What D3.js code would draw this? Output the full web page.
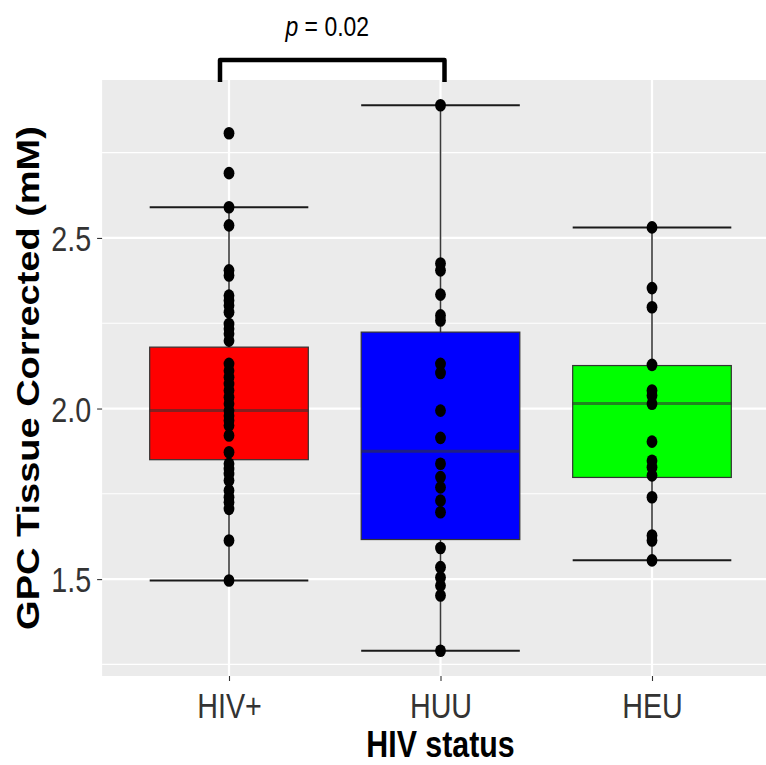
<!DOCTYPE html>
<html>
<head>
<meta charset="utf-8">
<script src="https://cdn.jsdelivr.net/npm/d3@7"></script>
<style>
  body { margin: 0; background: #fff; }
  text { font-family: "Liberation Sans", Arial, sans-serif; }
</style>
</head>
<body>
<script>
// categories and box statistics
var categories = ["HIV+", "HUU", "HEU"];
var boxFills = ["#ff0000", "#0000ff", "#00ff00"];
var whiskerLow = [1.496, 1.290, 1.555];
var boxQ1 = [1.850, 1.616, 1.798];
var boxMedian = [1.994, 1.875, 2.015];
var boxQ3 = [2.180, 2.224, 2.126];
var whiskerHigh = [2.590, 2.889, 2.531];

// individual points per group
var pointsHIV = [2.807, 2.690, 2.590, 2.537, 2.405, 2.390, 2.331, 2.317, 2.302, 2.282,
    2.248, 2.234, 2.219, 2.199, 2.131, 2.111, 2.092, 2.072, 2.053, 2.033, 2.014, 1.994,
    1.979, 1.965, 1.950, 1.921, 1.872, 1.838, 1.823, 1.808, 1.789, 1.760, 1.740, 1.725,
    1.706, 1.613, 1.496];
var pointsHUU = [2.889, 2.425, 2.405, 2.334, 2.273, 2.258, 2.131, 2.104, 1.994, 1.914,
    1.838, 1.799, 1.769, 1.730, 1.696, 1.591, 1.535, 1.505, 1.481, 1.452, 1.290];
var pointsHEU = [2.531, 2.353, 2.297, 2.128, 2.053, 2.038, 2.014, 1.903, 1.847, 1.828,
    1.804, 1.740, 1.628, 1.613, 1.555];

var yMajor = [1.5, 2.0, 2.5];
var yMinor = [1.25, 1.75, 2.25, 2.75];
var pLabel = "0.02";

var width = 766, height = 765,
    sx = 0.82; // the picture is squeezed horizontally

var svg = d3.select("body").append("svg")
    .attr("width", width)
    .attr("height", height);

var x = d3.scalePoint().domain(categories).range([229, 652]);
var step = x.step();
var panelLeft = x(categories[0]) - 0.6 * step,
    panelRight = x(categories[categories.length - 1]) + 0.6 * step,
    panelTop = 80, panelBottom = 676;

var y = d3.scaleLinear().domain([1.216, 2.963]).range([panelBottom, panelTop]);

// panel background
svg.append("rect")
    .attr("x", panelLeft).attr("y", panelTop)
    .attr("width", panelRight - panelLeft)
    .attr("height", panelBottom - panelTop)
    .attr("fill", "#ebebeb");

// grid
svg.append("g").selectAll("line").data(yMinor).enter().append("line")
    .attr("x1", panelLeft).attr("x2", panelRight)
    .attr("y1", function(d) { return y(d); }).attr("y2", function(d) { return y(d); })
    .attr("stroke", "#fff").attr("stroke-width", 1.1);
svg.append("g").selectAll("line").data(yMajor).enter().append("line")
    .attr("x1", panelLeft).attr("x2", panelRight)
    .attr("y1", function(d) { return y(d); }).attr("y2", function(d) { return y(d); })
    .attr("stroke", "#fff").attr("stroke-width", 2.2);
svg.append("g").selectAll("line").data(categories).enter().append("line")
    .attr("x1", function(d) { return x(d); }).attr("x2", function(d) { return x(d); })
    .attr("y1", panelTop).attr("y2", panelBottom)
    .attr("stroke", "#fff").attr("stroke-width", 2.2);

var boxes = categories.map(function(c, i) {
    return {cat: c, fill: boxFills[i], lo: whiskerLow[i], q1: boxQ1[i],
        med: boxMedian[i], q3: boxQ3[i], hi: whiskerHigh[i]};
});
var half = 0.375 * step;

// whiskers and caps
var wg = svg.append("g");
wg.selectAll(".whisker").data(boxes).enter().append("line")
    .attr("class", "whisker")
    .attr("x1", function(d) { return x(d.cat); }).attr("x2", function(d) { return x(d.cat); })
    .attr("y1", function(d) { return y(d.lo); }).attr("y2", function(d) { return y(d.hi); })
    .attr("stroke", "#3a3a3a").attr("stroke-width", 1.6);
["lo", "hi"].forEach(function(k) {
    wg.selectAll(".cap-" + k).data(boxes).enter().append("line")
        .attr("class", "cap-" + k)
        .attr("x1", function(d) { return x(d.cat) - half; })
        .attr("x2", function(d) { return x(d.cat) + half; })
        .attr("y1", function(d) { return y(d[k]); })
        .attr("y2", function(d) { return y(d[k]); })
        .attr("stroke", "#1a1a1a").attr("stroke-width", 2);
});

// boxes
svg.append("g").selectAll("rect").data(boxes).enter().append("rect")
    .attr("x", function(d) { return x(d.cat) - half; })
    .attr("width", 2 * half)
    .attr("y", function(d) { return y(d.q3); })
    .attr("height", function(d) { return y(d.q1) - y(d.q3); })
    .attr("fill", function(d) { return d.fill; })
    .attr("stroke", "#333").attr("stroke-width", 1.2);

svg.append("g").selectAll("line").data(boxes).enter().append("line")
    .attr("x1", function(d) { return x(d.cat) - half; })
    .attr("x2", function(d) { return x(d.cat) + half; })
    .attr("y1", function(d) { return y(d.med); }).attr("y2", function(d) { return y(d.med); })
    .attr("stroke", "#333").attr("stroke-opacity", 0.6).attr("stroke-width", 3);

// points
var points = [];
[pointsHIV, pointsHUU, pointsHEU].forEach(function(arr, i) {
    arr.forEach(function(v) { points.push({cat: categories[i], v: v}); });
});
svg.append("g").selectAll("ellipse").data(points).enter().append("ellipse")
    .attr("cx", function(d) { return x(d.cat); })
    .attr("cy", function(d) { return y(d.v); })
    .attr("rx", 5.4).attr("ry", 6.3)
    .attr("fill", "#000");

// axes
var yAxis = svg.append("g")
    .attr("transform", "translate(" + panelLeft + ",0)")
    .call(d3.axisLeft(y).tickValues(yMajor).tickSize(5).tickFormat(d3.format(".1f")));
yAxis.select(".domain").remove();
yAxis.selectAll(".tick line").attr("stroke", "#333").attr("stroke-width", 1.1);
yAxis.selectAll(".tick text")
    .attr("x", null).attr("dy", "0.36em")
    .attr("transform", "translate(-11,0) scale(" + sx + ",1)")
    .attr("text-anchor", "end")
    .attr("fill", "#333")
    .style("font-size", "35px");

var xAxis = svg.append("g")
    .attr("transform", "translate(0," + panelBottom + ")")
    .call(d3.axisBottom(x).tickSize(5));
xAxis.select(".domain").remove();
xAxis.selectAll(".tick line").attr("stroke", "#333").attr("stroke-width", 1.1);
xAxis.selectAll(".tick text")
    .attr("y", null).attr("dy", null)
    .attr("transform", "translate(0,42) scale(" + sx + ",1)")
    .attr("fill", "#333")
    .style("font-size", "35px");

// axis titles
svg.append("text")
    .attr("transform", "translate(" + (panelLeft + panelRight) / 2 + ",757) scale(" + sx + ",1)")
    .attr("text-anchor", "middle")
    .style("font-size", "37px").style("font-weight", "bold")
    .text("HIV status");

svg.append("text")
    .attr("transform", "translate(39," + (panelTop + panelBottom) / 2 + ") rotate(-90) scale(1," + sx + ")")
    .attr("text-anchor", "middle")
    .style("font-size", "38px").style("font-weight", "bold")
    .text("GPC Tissue Corrected (mM)");

// significance bracket
var bl = x(categories[0]) - 9, br = x(categories[1]) + 4;
svg.append("path")
    .attr("d", "M" + bl + "," + (panelTop + 2) + "V60H" + br + "V" + (panelTop + 2))
    .attr("fill", "none").attr("stroke", "#000")
    .attr("stroke-width", 4.5).attr("stroke-linejoin", "round");

var pt = svg.append("text")
    .attr("transform", "translate(" + ((bl + br) / 2 - 5) + ",36) scale(0.85,1)")
    .attr("text-anchor", "middle")
    .style("font-size", "27px");
pt.append("tspan").style("font-style", "italic").text("p");
pt.append("tspan").text(" = " + pLabel);
</script>
</body>
</html>
